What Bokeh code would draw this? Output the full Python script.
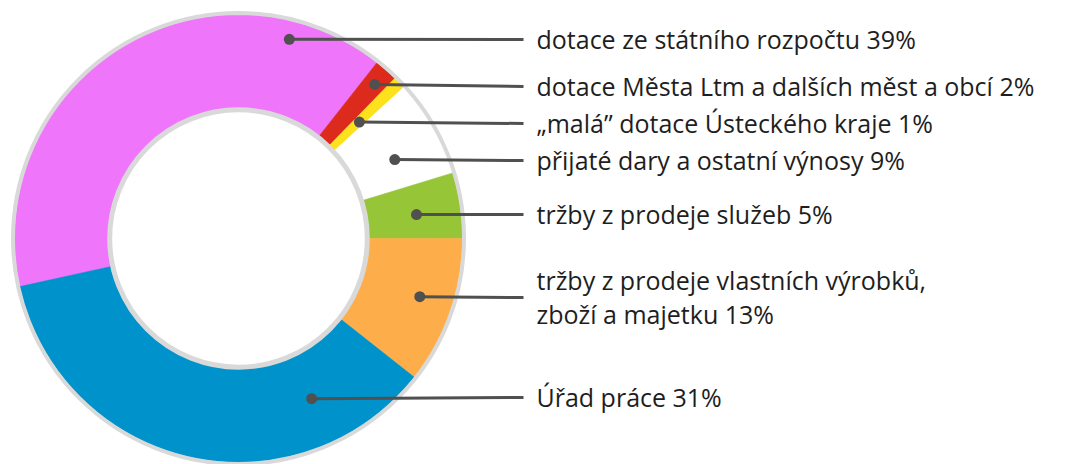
import math
from bokeh.plotting import figure
from bokeh.models import Range1d
from bokeh.core.properties import value
from bokeh.embed import file_html
from bokeh.resources import INLINE

# ---- data (clockwise order) ----
labels = [
    "dotace ze státního rozpočtu 39%",
    "dotace Města Ltm a dalších měst a obcí 2%",
    "\u201emalá\u201d dotace Ústeckého kraje 1%",
    "přijaté dary a ostatní výnosy 9%",
    "tržby z prodeje služeb 5%",
    "tržby z prodeje vlastních výrobků,\nzboží a majetku 13%",
    "Úřad práce 31%",
]
shares = [39.06, 1.69, 0.90, 7.07, 4.72, 10.64, 35.92]  # slice sizes as drawn (%)
colors = ["#EF76FA", "#DC2B1C", "#FCE11C", "#FFFFFF", "#97C538", "#FDAE4A", "#0092CB"]

# ---- layout ----
W, H = 1068, 464
CX, CY = 238, -238            # donut centre (data units = pixels, y downward negative)
R_IN, R_OUT = 128, 224
START_DEG = 192.4             # first slice starts here, slices run clockwise
anchor_frac = [0.17, 0.46, 0.45, 0.385, 0.45, 0.535, 0.79]   # dot position within slice (ccw)
anchor_r = [205.6, 205.7, 167.8, 175.1, 179.6, 190.4, 176.1]
label_y = [39, 86, 123, 160, 214, 297, 397]
LINE_END_X = 523
TEXT_X = 536
LINE_GAP = 34

p = figure(width=W, height=H, output_backend="svg", toolbar_location=None,
           x_range=Range1d(0, W), y_range=Range1d(-H, 0),
           min_border=0, outline_line_color=None, background_fill_color="white",
           border_fill_color="white")
p.axis.visible = False
p.grid.visible = False

# slices
starts, ends = [], []
a = START_DEG
for s in shares:
    e = a - s * 3.6
    starts.append(math.radians(e))
    ends.append(math.radians(a))
    a = e
p.annular_wedge(x=[CX] * len(shares), y=[CY] * len(shares), inner_radius=R_IN,
                outer_radius=R_OUT, start_angle=starts, end_angle=ends,
                fill_color=colors, line_color=colors, line_width=0.6,
                direction="anticlock")

# grey rims
p.circle(x=[CX], y=[CY], radius=225.5, fill_color=None, line_color="#D9D9D9", line_width=4)
p.circle(x=[CX], y=[CY], radius=128.8, fill_color="white", line_color="#D9D9D9", line_width=5)

# leaders and labels
dx, dy, lx0, ly0, lx1, ly1 = [], [], [], [], [], []
tx, ty, tt = [], [], []
for i in range(len(labels)):
    ang = starts[i] + anchor_frac[i] * (ends[i] - starts[i])
    x = CX + anchor_r[i] * math.cos(ang)
    y = CY + anchor_r[i] * math.sin(ang)
    dx.append(x); dy.append(y)
    lx0.append(x); ly0.append(y)
    lx1.append(LINE_END_X); ly1.append(-label_y[i])
    lines = labels[i].split("\n")
    n = len(lines)
    for j, t in enumerate(lines):
        base = label_y[i] - 0.5 + (j - (n - 1) / 2) * LINE_GAP
        tx.append(TEXT_X); ty.append(-base); tt.append(t)

p.segment(x0=lx0, y0=ly0, x1=lx1, y1=ly1, line_color="#505050", line_width=3)
p.scatter(x=dx, y=dy, size=11, marker="circle", fill_color="#505050", line_color=None)
p.text(x=tx, y=ty, text=tt, text_font=value("Open Sans"), text_font_size="25px",
       text_baseline="alphabetic", text_align="left", text_color="#1E1E1E")

open("out.html", "w").write(file_html(p, INLINE))
